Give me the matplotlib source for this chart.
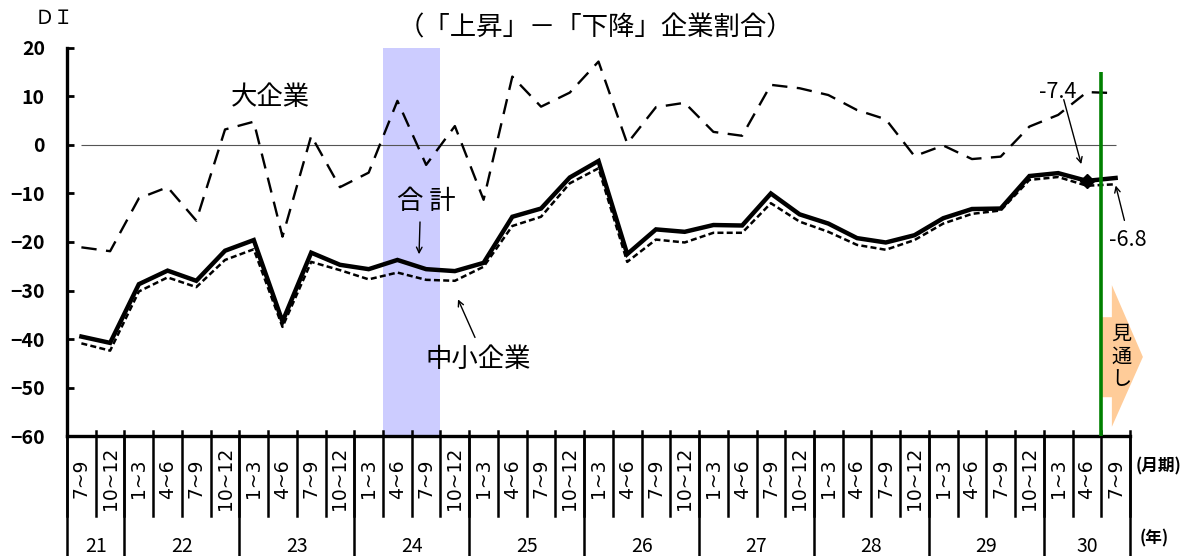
import numpy as np
import matplotlib
matplotlib.use('Agg')
import matplotlib.pyplot as plt
from matplotlib.patches import Polygon
import matplotlib.transforms as mtransforms

plt.rcParams['font.family'] = ['Noto Sans CJK JP', 'DejaVu Sans']

# quarter labels, grouped by year
years = ['21', '22', '23', '24', '25', '26', '27', '28', '29', '30']
quarters = (['7~9', '10~12']
            + ['1~3', '4~6', '7~9', '10~12'] * 8
            + ['1~3', '4~6', '7~9'])
year_counts = [2, 4, 4, 4, 4, 4, 4, 4, 4, 3]

# DI values (large firms, total, small/medium firms)
large = [-21.1, -21.9, -11.0, -8.7, -15.6, 3.2, 4.8, -18.9, 1.9, -8.7,
         -5.7, 9.1, -4.1, 3.9, -11.3, 14.1, 7.9, 10.8, 17.2, 0.3,
         7.8, 8.7, 2.7, 1.9, 12.4, 11.7, 10.3, 7.2, 5.3, -2.3,
         -0.1, -2.9, -2.4, 3.8, 6.2, 10.9, 10.7]
total = [-39.5, -40.8, -28.7, -25.9, -28.0, -21.8, -19.6, -36.4, -22.2, -24.7,
         -25.6, -23.7, -25.6, -26.0, -24.3, -14.8, -13.1, -6.7, -3.3, -22.5,
         -17.4, -17.9, -16.5, -16.6, -10.0, -14.3, -16.2, -19.2, -20.1, -18.6,
         -15.1, -13.2, -13.1, -6.4, -5.8, -7.4, -6.8]
small = [-40.9, -42.4, -30.2, -27.3, -29.3, -23.7, -21.5, -37.5, -24.1, -25.8,
         -27.7, -26.3, -27.8, -28.0, -25.1, -16.7, -14.8, -7.9, -4.8, -24.1,
         -19.5, -20.1, -18.1, -18.1, -12.0, -15.8, -17.9, -20.6, -21.6, -19.6,
         -16.2, -14.2, -13.5, -7.2, -6.6, -8.4, -8.1]

x = np.arange(len(quarters))

fig = plt.figure(figsize=(11.97, 5.56), dpi=100)
ax = fig.add_axes([0.056, 0.2158, 0.888, 0.6979])

ax.axvspan(10.5, 12.5, color='#ccccff', lw=0, zorder=0)
ax.hlines(0, 0, len(x) - 1, color='#555555', lw=0.8, zorder=1)

ax.plot(x, large, color='black', lw=1.7, ls=(0, (6.5, 4)), zorder=3)
ax.plot(x, small, color='black', lw=1.8, ls=(0, (2.4, 1.3)), zorder=3)
ax.plot(x, total, color='black', lw=3.2, zorder=4, solid_joinstyle='miter')
ax.plot(x[35], total[35], marker='D', color='black', ms=7, zorder=5)

# forecast divider
ax.vlines(35.5, -60, 15.05, color='#008000', lw=2.6, zorder=6, clip_on=False)

ax.set_xlim(-0.5, len(x) - 0.5)
ax.set_ylim(-60, 20)
ax.set_yticks(np.arange(-60, 21, 10))
ax.tick_params(axis='y', direction='in', length=5, width=2, pad=16,
               labelsize=14)
for lab in ax.get_yticklabels():
    lab.set_fontweight('bold')
ax.set_xticks([])
for s in ['top', 'right']:
    ax.spines[s].set_visible(False)
ax.spines['left'].set_linewidth(2.4)
ax.spines['bottom'].set_linewidth(2.4)

# category axis drawn by hand: quarters row and years row
trans = mtransforms.blended_transform_factory(ax.transData, ax.transAxes)
for i, q in enumerate(quarters):
    ax.text(i, -0.11, q, rotation=90, ha='center', va='center',
            fontsize=13.5, family='DejaVu Sans', transform=trans)
for b in np.arange(-0.5, len(x), 1.0):
    ax.plot([b, b], [0.013, -0.205], color='black', lw=1.8,
            transform=trans, clip_on=False)
edges = np.concatenate([[0], np.cumsum(year_counts)]) - 0.5
for k, yr in enumerate(years):
    ax.text((edges[k] + edges[k + 1]) / 2, -0.2835, yr, ha='center',
            va='center', fontsize=14, transform=trans)
for b in edges:
    ax.plot([b, b], [0, -0.31], color='black', lw=1.8,
            transform=trans, clip_on=False)

fig.text(1136 / 1197, 1 - 466 / 556, '(月期)', fontsize=12,
         fontweight='bold', va='center', ha='left')
fig.text(1140 / 1197, 1 - 538 / 556, '(年)', fontsize=12,
         fontweight='bold', va='center', ha='left')

fig.text(54 / 1197, 1 - 18 / 556, 'ＤＩ', fontsize=14, ha='center',
         va='center')
fig.text(595 / 1197, 1 - 28 / 556, '（「上昇」－「下降」企業割合）',
         fontsize=19, ha='center', va='center')

# series labels
ax.text(6.57, 9.7, '大企業', fontsize=19, ha='center', va='center')
ax.text(12.0, -11.75, '合 計', fontsize=19, ha='center', va='center')
ax.annotate('', xy=(11.75, -23.1), xytext=(11.79, -15.3),
            arrowprops=dict(arrowstyle='->', color='black', lw=1))
ax.text(13.8, -44.3, '中小企業', fontsize=19, ha='center', va='center')
ax.annotate('', xy=(13.07, -31.3), xytext=(13.74, -40.2),
            arrowprops=dict(arrowstyle='->', color='black', lw=1))

ax.text(33.99, 10.9, f'{total[35]:.1f}', fontsize=15.5, ha='center',
        va='center')
ax.annotate('', xy=(34.83, -4.5), xytext=(34.17, 9.9),
            arrowprops=dict(arrowstyle='->', color='black', lw=1))
ax.text(36.43, -19.6, f'{total[36]:.1f}', fontsize=15.5, ha='center',
        va='center', clip_on=False)
ax.annotate('', xy=(35.98, -7.8), xytext=(36.33, -16.1),
            arrowprops=dict(arrowstyle='->', color='black', lw=1),
            annotation_clip=False)

# forecast arrow
arrow = Polygon([(35.5, -35.5), (35.87, -35.5), (35.87, -28.9),
                 (36.95, -43.7), (35.87, -58.1), (35.87, -52.0),
                 (35.5, -52.0)], closed=True, facecolor='#ffcc99',
                edgecolor='none', clip_on=False, zorder=5)
ax.add_patch(arrow)
ax.text(36.19, -43.7, '見\n通\nし', fontsize=14.5, ha='center',
        va='center', linespacing=1.1, zorder=7, clip_on=False)

fig.savefig('out.png', dpi=100)
